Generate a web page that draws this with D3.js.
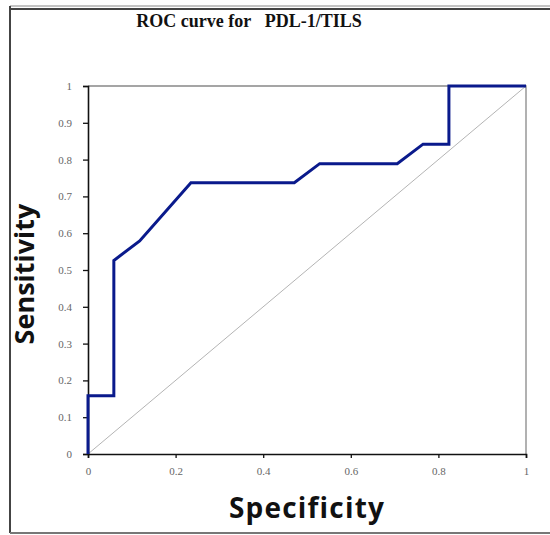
<!DOCTYPE html>
<html>
<head>
<meta charset="utf-8">
<script src="https://cdn.jsdelivr.net/npm/d3@7"></script>
<style>
  html, body { margin: 0; padding: 0; background: #fff; }
  svg { display: block; }
</style>
</head>
<body>
<svg id="chart" width="550" height="535"></svg>
<script>
// ROC curve points (x = 1 - specificity, labeled "Specificity"; y = sensitivity)
const rocX = [0, 0, 0.059, 0.059, 0.118, 0.235, 0.353, 0.471, 0.529, 0.706, 0.765, 0.824, 0.824, 0.882, 1];
const rocY = [0, 0.158, 0.158, 0.526, 0.579, 0.737, 0.737, 0.737, 0.789, 0.789, 0.842, 0.842, 1, 1, 1];
const diagX = [0, 1];
const diagY = [0, 1];
const xTicks = [0, 0.2, 0.4, 0.6, 0.8, 1];
const yTicks = [0, 0.1, 0.2, 0.3, 0.4, 0.5, 0.6, 0.7, 0.8, 0.9, 1];
const titleText = "ROC curve for\u00a0\u00a0\u00a0PDL-1/TILS";
const xTitle = "Specificity";
const yTitle = "Sensitivity";

const svg = d3.select("#chart");
const W = 550, H = 535;
const plot = { left: 88, right: 526, top: 86, bottom: 454 };

// outer frame
svg.append("line").attr("x1", 10).attr("x2", W).attr("y1", 6).attr("y2", 6)
  .attr("stroke", "#888").attr("stroke-width", 1);
svg.append("line").attr("x1", 10).attr("x2", W).attr("y1", 9).attr("y2", 9)
  .attr("stroke", "#444").attr("stroke-width", 2);
svg.append("line").attr("x1", 10).attr("x2", 10).attr("y1", 6).attr("y2", 533)
  .attr("stroke", "#444").attr("stroke-width", 2);
svg.append("line").attr("x1", 10).attr("x2", W).attr("y1", 533).attr("y2", 533)
  .attr("stroke", "#777").attr("stroke-width", 2);

const x = d3.scaleLinear().domain([0, 1]).range([plot.left, plot.right]);
const y = d3.scaleLinear().domain([0, 1]).range([plot.bottom, plot.top]);

// top and right plot border (gray)
svg.append("path")
  .attr("d", `M${x(0)},${y(1)}H${x(1)}V${y(0)}`)
  .attr("fill", "none").attr("stroke", "#888").attr("stroke-width", 1.3);

// diagonal
const line = d3.line().x(d => x(d[0])).y(d => y(d[1]));
svg.append("path")
  .datum(diagX.map((v, i) => [v, diagY[i]]))
  .attr("d", line)
  .attr("fill", "none").attr("stroke", "#b4b4b4").attr("stroke-width", 1);

// axes
const xAxis = d3.axisBottom(x).tickValues(xTicks).tickSize(4).tickFormat(d3.format("~g"));
const yAxis = d3.axisLeft(y).tickValues(yTicks).tickSize(5).tickFormat(d3.format("~g"));

const gx = svg.append("g").attr("transform", `translate(0,${plot.bottom})`).call(xAxis);
const gy = svg.append("g").attr("transform", `translate(${plot.left},0)`).call(yAxis);
[gx, gy].forEach(g => {
  g.select(".domain").attr("stroke", "#111").attr("stroke-width", 1.6);
  g.selectAll(".tick line").attr("stroke", "#111").attr("stroke-width", 1.3);
  g.selectAll(".tick text")
    .attr("font-family", "'Liberation Serif', 'DejaVu Serif', serif")
    .attr("font-size", 11).attr("fill", "#666");
});
gx.selectAll(".tick text").attr("dy", "1.3em");
gy.selectAll(".tick text").attr("x", -16);

// ROC curve
svg.append("path")
  .datum(rocX.map((v, i) => [v, rocY[i]]))
  .attr("d", line)
  .attr("fill", "none").attr("stroke", "#0a1a8c").attr("stroke-width", 3)
  .attr("stroke-linejoin", "miter");

// title
svg.append("text")
  .attr("x", 249).attr("y", 27)
  .attr("text-anchor", "middle")
  .attr("font-family", "'Liberation Serif', serif")
  .attr("font-weight", "bold").attr("font-size", 18)
  .attr("fill", "#111")
  .text(titleText);

// axis titles
svg.append("text")
  .attr("x", 307).attr("y", 518)
  .attr("text-anchor", "middle")
  .attr("font-family", "'Open Sans', sans-serif")
  .attr("font-weight", "bold").attr("font-size", 28)
  .attr("letter-spacing", 1.2)
  .attr("fill", "#111")
  .text(xTitle);

svg.append("text")
  .attr("transform", "translate(34,274) rotate(-90)")
  .attr("text-anchor", "middle")
  .attr("font-family", "'Open Sans', sans-serif")
  .attr("font-weight", "bold").attr("font-size", 27)
  .attr("fill", "#111")
  .text(yTitle);
</script>
</body>
</html>
